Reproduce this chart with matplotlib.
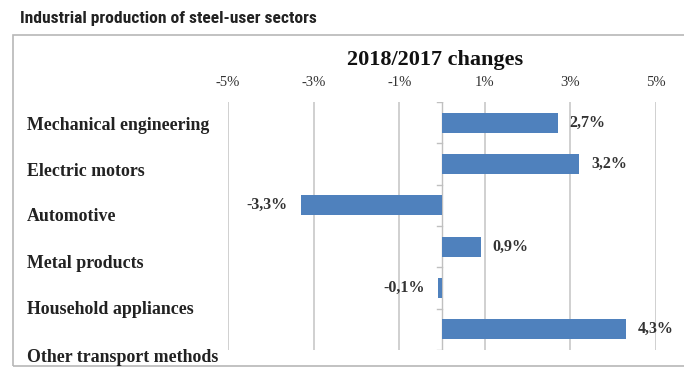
import matplotlib.pyplot as plt
from matplotlib.patches import Rectangle

# Steel-user sectors, 2018 vs 2017 change in industrial production (%)
sectors = ["Mechanical engineering", "Electric motors", "Automotive",
           "Metal products", "Household appliances", "Other transport methods"]
changes = [2.7, 3.2, -3.3, 0.9, -0.1, 4.3]
ticks = [-5, -3, -1, 1, 3, 5]

bar_color = "#4F81BD"
serif = ["Liberation Serif", "DejaVu Serif"]

fig = plt.figure(figsize=(6.84, 3.67), dpi=100)

# frame around the chart
fig.patches.append(Rectangle((13 / 684, 0.003), 0.99, 1 - 35 / 367 - 0.003,
                             transform=fig.transFigure, fill=False,
                             edgecolor="#b8b8b8", linewidth=1.2))

fig.text(20 / 684, 1 - 18 / 367, "Industrial production of steel-user sectors",
         family=["Roboto Condensed", "Roboto", "DejaVu Sans"], weight="bold",
         fontsize=12.6, va="center", ha="left", color="#222222")

fig.text(435 / 684, 1 - 60 / 367, "2018/2017 changes", family=serif,
         weight="bold", fontsize=16, ha="center", va="center", color="#111111")

ax = fig.add_axes([228 / 684, 1 - 350 / 367, 428 / 684, 248 / 367])
y = list(range(len(sectors)))
ax.barh(y, changes, height=0.48, color=bar_color, zorder=3)
ax.set_xlim(-5, 5)
ax.set_ylim(len(sectors) - 0.5, -0.5)

ax.set_xticks(ticks)
ax.set_xticklabels([f"{t}%" for t in ticks], family=serif, fontsize=10.5,
                   color="#333333")
ax.xaxis.tick_top()
ax.tick_params(axis="x", length=0, pad=9)
ax.set_yticks([])
ax.grid(axis="x", color="#c8c8c8", linewidth=1.2, zorder=0)
for s in ax.spines.values():
    s.set_visible(False)

# zero axis with small category separators
ax.axvline(0, color="#c0c0c0", linewidth=1, zorder=2)
for k in range(len(sectors) + 1):
    ax.plot([-0.12, 0], [k - 0.5, k - 0.5], color="#c0c0c0", linewidth=1,
            zorder=2)

for yi, v in zip(y, changes):
    label = f"{v:.1f}%".replace(".", ",")
    if v >= 0:
        ax.text(v + 0.28, yi, label, ha="left", va="center", family=serif,
                weight="bold", fontsize=11.5, color="#333333")
    else:
        ax.text(v - 0.3, yi, label, ha="right", va="center", family=serif,
                weight="bold", fontsize=11.5, color="#333333")

# sector names, left-aligned in their own column
label_y = [126, 172, 217, 264, 310, 357]
for name, py in zip(sectors, label_y):
    fig.text(27 / 684, 1 - py / 367, name, family=serif, weight="bold",
             fontsize=12.9, ha="left", va="center", color="#222222")

fig.savefig("out.png", dpi=100)
